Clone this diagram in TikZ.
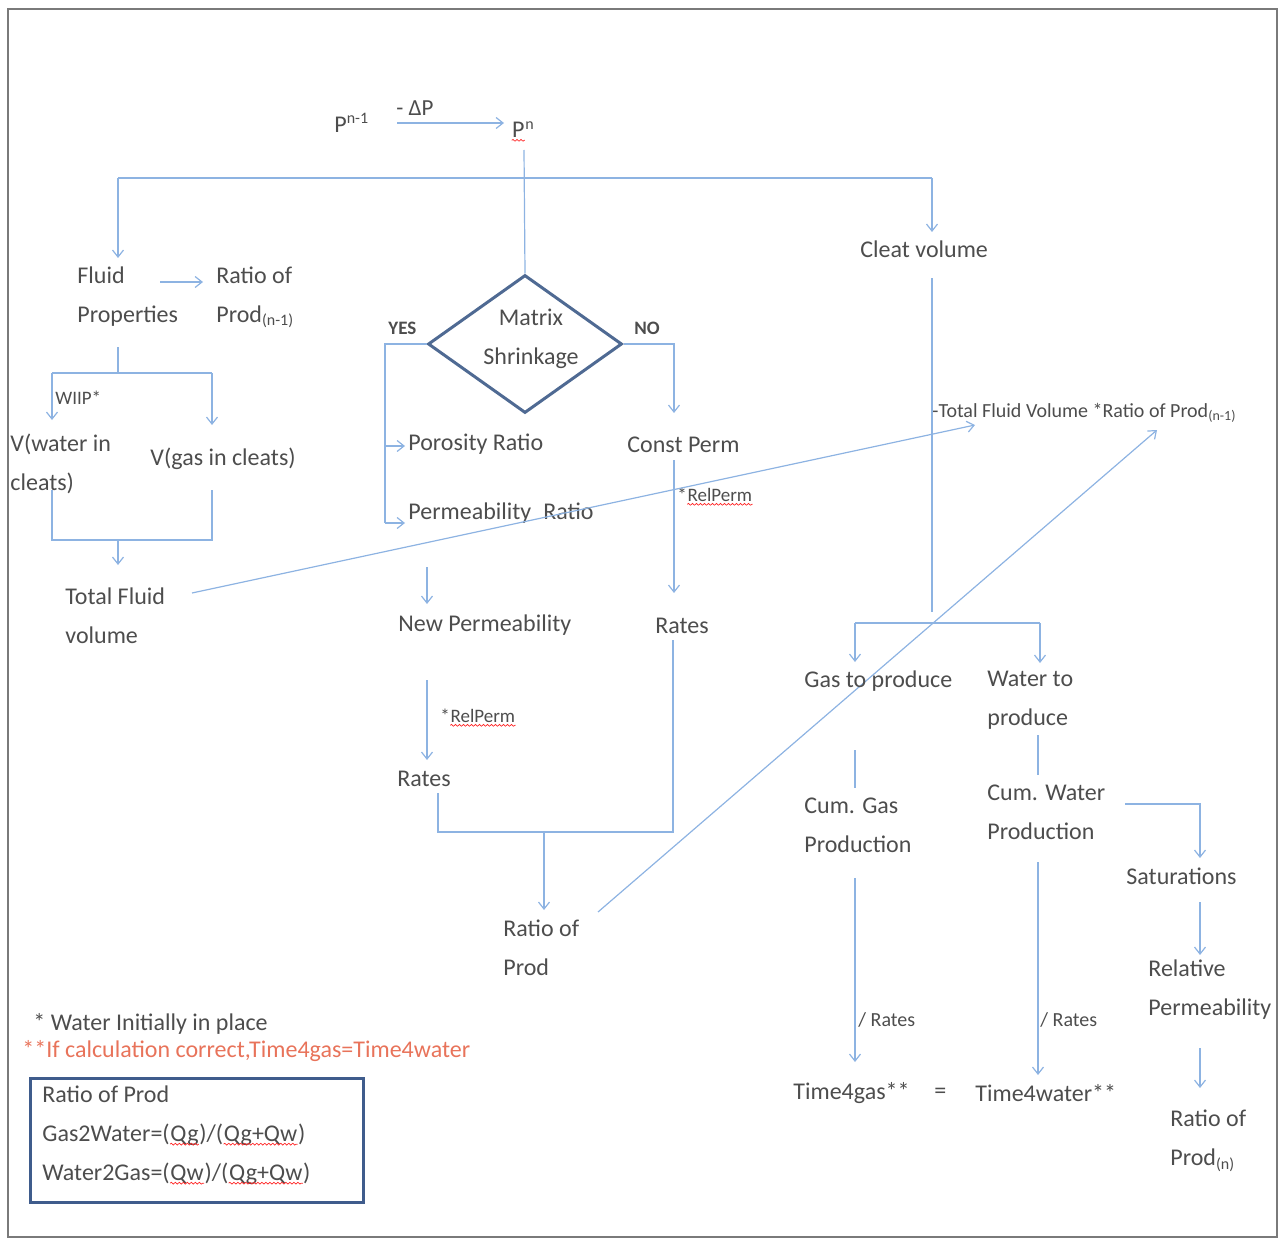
\documentclass[tikz,border=0pt]{standalone}
\usepackage{fontspec}
\setmainfont{Carlito}
\usetikzlibrary{arrows.meta,decorations.pathmorphing,shapes.geometric}
\definecolor{txt}{HTML}{4D4D4D}
\definecolor{ln}{HTML}{8DB3E2}
\definecolor{dia}{HTML}{4F6A93}
\definecolor{boxc}{HTML}{3F5C8C}
\definecolor{redt}{HTML}{E8735A}
\definecolor{framec}{HTML}{7A7A7A}
\newcommand\sq[1]{\tikz[baseline=(s.base)]{\node[inner sep=0pt](s){#1};\draw[red!85,line width=0.35pt,decorate,decoration={snake,amplitude=0.45pt,segment length=2pt}] ([yshift=-1.2pt]s.base west)--([yshift=-1.2pt]s.base east);}}
\begin{document}
\begin{tikzpicture}[x=0.5pt,y=-0.5pt,
  lbl/.style={inner sep=0pt,anchor=west,text=txt,font=\fontsize{12}{19.5}\selectfont,align=left,yshift=-0.75pt},
  sm/.style={inner sep=0pt,anchor=west,text=txt,font=\fontsize{9.5}{11}\selectfont},
  wire/.style={draw=ln,line width=0.6pt},
  arr/.style={wire,-{Straight Barb[length=3.5pt,width=5.5pt]}}
]
\useasboundingbox (0,0) rectangle (1284,1241);
\draw[framec,line width=1.2pt] (8,9) rectangle (1277,1237);

% top
\node[lbl] (pn1) at (334,121) {P\textsuperscript{n-1}};
\node[sm,font=\fontsize{11.5}{13}\selectfont] (dp) at (396,108) {- ΔP};
\node[lbl] (pn) at (511,130) {\sq{P}\textsuperscript{n}};
\coordinate (a1) at (397,123);
\coordinate (a2) at (504,123);
\draw[arr] (a1) -- (a2);

% diamond
\node[diamond,draw=dia,line width=1.5pt,minimum width=97pt,minimum height=69pt,inner sep=0pt] (ms) at (525,344) {};
\node[lbl,anchor=center,align=center] (mst) at (531,337) {Matrix\\Shrinkage};
\draw[wire] (524,150) -- (ms.north);
\coordinate (tl) at (118,178);
\coordinate (tr) at (932,178);
\draw[wire] (tl) -- (tr);
\node[sm,font=\bfseries\fontsize{9.5}{11}\selectfont] (yes) at (388,328) {YES};
\node[sm,font=\bfseries\fontsize{9.5}{11}\selectfont] (no) at (634,328) {NO};

% left column
\node[lbl] (fluid) at (77,295) {Fluid\\Properties};
\node[lbl] (ratio1) at (216,296) {Ratio of\\Prod\textsubscript{(n-1)}};
\draw[arr] (tl) -- (118,258);
\draw[arr] (160,282) -- (203,282);
\draw[wire] (118,347) -- (118,373);
\draw[wire] (52,373) -- (212,373);
\draw[arr] (52,373) -- (52,420);
\draw[arr] (212,373) -- (212,425);
\node[sm] (wiip) at (55,398) {WIIP*};
\node[lbl] (vw) at (10,462) {V(water in\\cleats)};
\node[lbl] (vg) at (150,457) {V(gas in cleats)};
\draw[wire] (52,490) -- (52,540) -- (212,540) -- (212,490);
\draw[arr] (118,540) -- (118,565);
\node[lbl] (tfv) at (65,614) {Total Fluid\\volume};

% middle
\draw[wire] (ms.west) -| (385,523);
\draw[arr] (385,446) -- (405,446);
\draw[arr] (385,523) -- (405,523);
\node[lbl] (por) at (408,443) {Porosity Ratio};
\node[lbl] (perm) at (408,512) {Permeability\hspace{0.5em}Ratio};
\draw[arr] (ms.east) -| (674,413);
\node[lbl] (cp) at (627,443) {Const Perm};
\draw[arr] (674,460) -- (674,593);
\node[sm] (rp1) at (677,497) {*\sq{RelPerm}};
\node[lbl] (rates1) at (655,624) {Rates};
\node[lbl] (newp) at (398,624) {New Permeability};
\draw[arr] (427,567) -- (427,604);
\draw[arr] (427,680) -- (427,760);
\node[sm] (rp2) at (440,718) {*\sq{RelPerm}};
\node[lbl] (rates2) at (397,777) {Rates};
\draw[wire] (438,793) -- (438,832) -- (673,832) -- (673,640);
\draw[arr] (544,832) -- (544,910);
\node[lbl] (rop) at (503,946) {Ratio of\\Prod};

% long arrows
\node[sm,font=\fontsize{10}{12}\selectfont] (tfvr) at (932,413) {-Total Fluid Volume *Ratio of Prod\textsubscript{(n-1)}};
\draw[arr] (192,593) -- (975,425);
\draw[arr] (598,912) -- (1157,430);

% right column
\node[lbl] (cleat) at (860,248) {Cleat volume};
\draw[arr] (tr) -- (932,232);
\draw[wire] (932,278) -- (932,612);
\draw[wire] (855,623) -- (1040,623);
\draw[arr] (855,623) -- (855,662);
\draw[arr] (1040,623) -- (1040,663);
\node[lbl] (gas) at (804,680) {Gas to produce};
\node[lbl] (water) at (987,699) {Water to\\produce};
\draw[wire] (855,750) -- (855,788);
\node[lbl] (cumg) at (804,824) {Cum. Gas\\Production};
\draw[wire] (1038,735) -- (1038,775);
\node[lbl] (cumw) at (987,811) {Cum. Water\\Production};
\draw[arr] (1125,804) -| (1200,858);
\node[lbl] (sat) at (1126,875) {Saturations};
\draw[arr] (1200,902) -- (1200,955);
\node[lbl] (relp) at (1148,988) {Relative\\Permeability};
\draw[arr] (1200,1048) -- (1200,1088);
\node[lbl] (ropn) at (1170,1139) {Ratio of\\Prod\textsubscript{(n)}};
\draw[arr] (855,878) -- (855,1062);
\node[sm,font=\fontsize{10}{12}\selectfont] (r3) at (858,1020) {/ Rates};
\draw[arr] (1038,862) -- (1038,1075);
\node[sm,font=\fontsize{10}{12}\selectfont] (r4) at (1040,1020) {/ Rates};
\node[lbl] (t4g) at (793,1092) {Time4gas**};
\node[lbl] (eq) at (934,1092) {=};
\node[lbl] (t4w) at (975,1092) {Time4water**};

% notes
\node[lbl] (n1) at (33,1022) {* Water Initially in place};
\node[lbl,text=redt] (n2) at (22,1050) {**If calculation correct,Time4gas=Time4water};
\node[draw=boxc,line width=1.4pt,minimum width=166.5pt,minimum height=62pt,anchor=north west,inner sep=0pt] (rbox) at (29,1077) {};
\node[lbl] (rboxt) at (42,1134) {Ratio of Prod\\Gas2Water=(\sq{Qg})/(\sq{Qg+Qw})\\Water2Gas=(\sq{Qw})/(\sq{Qg+Qw})};
\end{tikzpicture}
\end{document}
